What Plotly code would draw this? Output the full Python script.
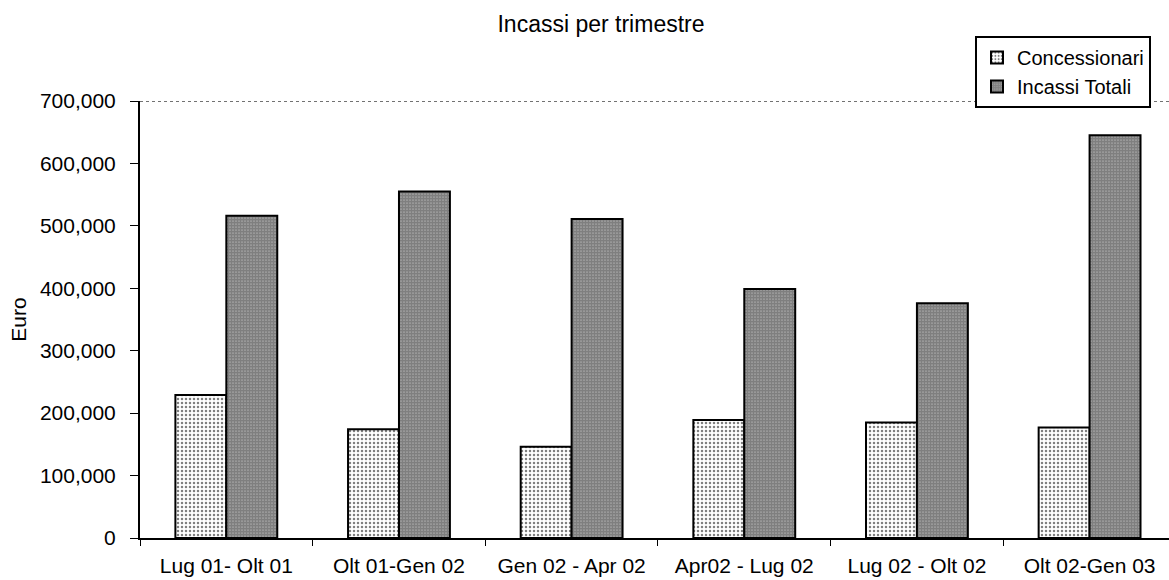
import plotly.graph_objects as go

categories = ["Lug 01- Olt 01", "Olt 01-Gen 02", "Gen 02 - Apr 02",
              "Apr02 - Lug 02", "Lug 02 - Olt 02", "Olt 02-Gen 03"]
concessionari = [229000, 174000, 146000, 189000, 185000, 177000]
incassi_totali = [516000, 555000, 511000, 399000, 376000, 645000]
y_ticks = [0, 100000, 200000, 300000, 400000, 500000, 600000, 700000]

FONT = "Liberation Sans, Arial, sans-serif"

fig = go.Figure()
fig.add_trace(go.Bar(
    name="Concessionari", x=categories, y=concessionari,
    marker=dict(color="white",
                line=dict(color="black", width=2),
                pattern=dict(shape=".", fgcolor="black", bgcolor="white",
                             size=4, solidity=0.3)),
))
fig.add_trace(go.Bar(
    name="Incassi Totali", x=categories, y=incassi_totali,
    marker=dict(color="white",
                line=dict(color="black", width=2),
                pattern=dict(shape=".", fgcolor="black", bgcolor="white",
                             size=3, solidity=0.85)),
))

fig.add_shape(type="line", xref="paper", yref="y", x0=0, x1=1, y0=700000, y1=700000,
              line=dict(color="#444444", width=1.5, dash="dot"), layer="below")

fig.update_layout(
    width=1169, height=580,
    margin=dict(l=140, r=0, t=101, b=42, autoexpand=False),
    paper_bgcolor="white", plot_bgcolor="white",
    font=dict(family=FONT, size=21, color="black"),
    title=dict(text="Incassi per trimestre", x=601 / 1169, xanchor="center",
               y=1 - 24 / 580, yanchor="middle", font=dict(size=23)),
    barmode="group", bargap=0.41, bargroupgap=0,
    showlegend=True,
    legend=dict(x=(975 - 140) / 1029, y=(538 - 36) / 437, xanchor="left", yanchor="top",
                bgcolor="white", bordercolor="black", borderwidth=2,
                font=dict(size=20), itemwidth=30, tracegroupgap=0),
    xaxis=dict(type="category", range=[-0.5, 5.46], showline=True, linecolor="black",
               linewidth=2, ticks="outside", tickson="boundaries", ticklen=6,
               tickcolor="black", showgrid=False, ticklabelstandoff=8,
               tickfont=dict(size=21)),
    yaxis=dict(range=[0, 700000], tickvals=y_ticks, tickformat=",",
               showline=True, linecolor="black", linewidth=2,
               ticks="outside", ticklen=8, tickcolor="black", showgrid=False,
               zeroline=False, ticklabelstandoff=10,
               title=dict(text="Euro", standoff=8, font=dict(size=21)),
               tickfont=dict(size=21)),
)

fig.write_html("out.html", config={"displayModeBar": False},
               post_script="document.body.style.margin='0';document.body.style.padding='0';")
